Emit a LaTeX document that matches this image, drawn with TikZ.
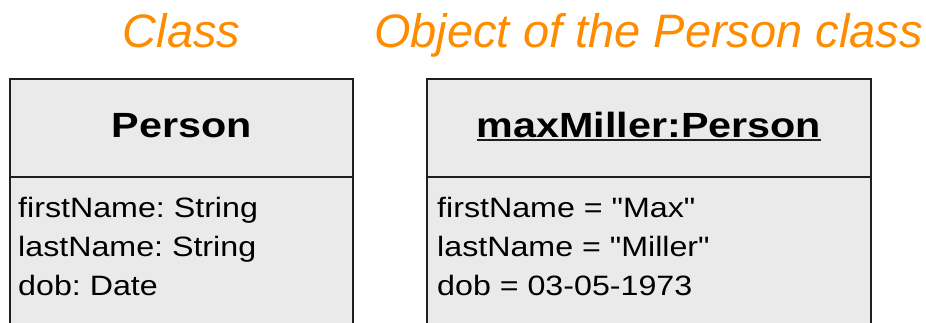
\documentclass[tikz,border=0pt]{standalone}
\usepackage{fontspec}
\setmainfont{Liberation Sans}
\newfontfamily\boxfont{Liberation Sans}[FakeStretch=1.15]
\newfontfamily\headfont{Liberation Sans}[FakeStretch=1.18]
\definecolor{titleorange}{RGB}{255,140,0}
\definecolor{boxfill}{RGB}{234,234,234}
\definecolor{boxline}{RGB}{30,30,30}
\frenchspacing
\begin{document}
\begin{tikzpicture}[x=1pt,y=-1pt,
  titletext/.style={font=\fontsize{47}{50}\selectfont\itshape, text=titleorange, inner sep=0pt, anchor=base},
  headtext/.style={font=\headfont\fontsize{35}{40}\selectfont\bfseries, inner sep=0pt, anchor=base},
  attrtext/.style={font=\boxfont\fontsize{28}{39}\selectfont, inner sep=0pt, anchor=base west, align=left},
  umlbox/.style={fill=boxfill},
  umlline/.style={draw=boxline, line width=2pt}]
\useasboundingbox (0,0) rectangle (926,322);
\clip (0,0) rectangle (926,322);
% titles
\node[titletext] (t1) at (181.5,47) {Class};
\node[titletext] (t2) at (648.5,47) {Object of the Person class};
% class box
\fill[umlbox] (10,79) rectangle (353,330);
\draw[umlline] (10,330) -- (10,79) -- (353,79) -- (353,330);
\draw[umlline] (10,177) -- (353,177);
% object box
\fill[umlbox] (427,79) rectangle (871,330);
\draw[umlline] (427,330) -- (427,79) -- (871,79) -- (871,330);
\draw[umlline] (427,177) -- (871,177);
% headers
\node[headtext] (h1) at (181.5,137.5) {Person};
\node[headtext] (h2) at (649,137.5) {maxMiller:Person};
\draw[line width=2pt, boxline] ([yshift=-2.3pt]h2.base west) -- ([yshift=-2.3pt]h2.base east);
% attributes
\node[attrtext] (a1) at (18,217) {\frenchspacing firstName: String};
\node[attrtext] (a2) at (18,256) {\frenchspacing lastName: String};
\node[attrtext] (a3) at (18,295) {\frenchspacing dob: Date};
\node[attrtext] (b1) at (437,217) {firstName = "Max"};
\node[attrtext] (b2) at (437,256) {lastName = "Miller"};
\node[attrtext] (b3) at (437,295) {dob = 03-05-1973};
\end{tikzpicture}
\end{document}
